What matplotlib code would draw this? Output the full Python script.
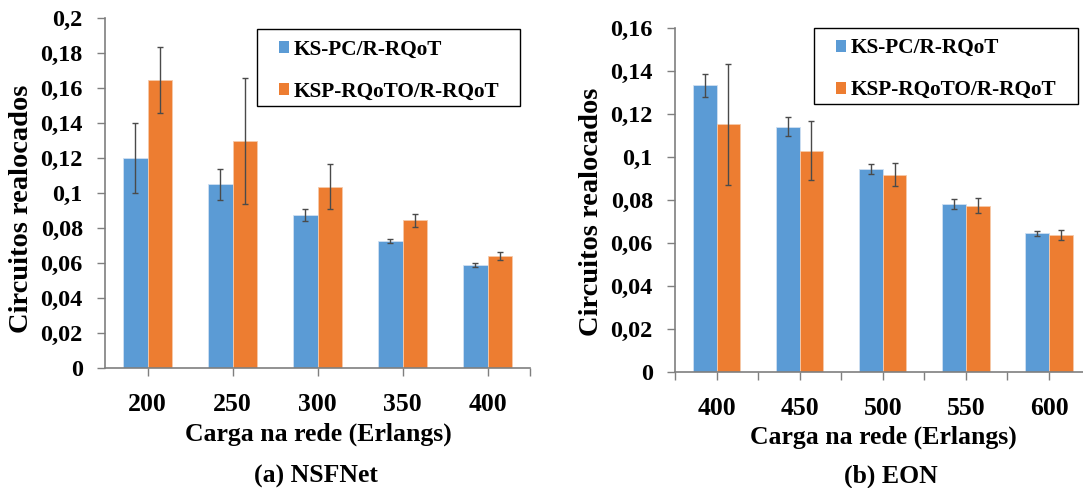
import matplotlib
matplotlib.use("Agg")
import matplotlib.pyplot as plt
from matplotlib.patches import Rectangle
import numpy as np

# ---- data ----
series_names = ["KS-PC/R-RQoT", "KSP-RQoTO/R-RQoT"]

nsf_loads = ["200", "250", "300", "350", "400"]
nsf_kspc = [0.120, 0.105, 0.0875, 0.0726, 0.0589]
nsf_kspc_err = [0.020, 0.0088, 0.0035, 0.0013, 0.0012]
nsf_ksp = [0.1645, 0.1295, 0.1036, 0.0844, 0.064]
nsf_ksp_err = [0.019, 0.036, 0.0127, 0.0038, 0.0024]

eon_loads = ["400", "450", "500", "550", "600"]
eon_kspc = [0.1332, 0.114, 0.0942, 0.078, 0.0643]
eon_kspc_err = [0.0053, 0.0045, 0.0022, 0.0021, 0.0011]
eon_ksp = [0.115, 0.1027, 0.0916, 0.0773, 0.0635]
eon_ksp_err = [0.028, 0.0137, 0.0053, 0.0033, 0.0022]

nsf_yticks = [0, 0.02, 0.04, 0.06, 0.08, 0.1, 0.12, 0.14, 0.16, 0.18, 0.2]
nsf_yticklabels = ["0", "0,02", "0,04", "0,06", "0,08", "0,1", "0,12", "0,14", "0,16", "0,18", "0,2"]
eon_yticks = [0, 0.02, 0.04, 0.06, 0.08, 0.1, 0.12, 0.14, 0.16]
eon_yticklabels = ["0", "0,02", "0,04", "0,06", "0,08", "0,1", "0,12", "0,14", "0,16"]

xlabel = "Carga na rede (Erlangs)"
ylabel = "Circuitos realocados"
captions = ["(a) NSFNet", "(b) EON"]

# ---- style ----
BLUE = "#5B9BD5"
ORANGE = "#ED7D31"
AXC = "#7f7f7f"
ERRC = "#4a4a4a"
FONT = "Liberation Serif"
plt.rcParams["font.family"] = [FONT, "DejaVu Serif"]
plt.rcParams["font.weight"] = "bold"

W, H = 1083, 488
fig = plt.figure(figsize=(W / 100, H / 100), dpi=100)


def px_axes(x0, y0, x1, y1):
    return fig.add_axes([x0 / W, 1 - y1 / H, (x1 - x0) / W, (y1 - y0) / H])


def draw(ax, loads, a, ae, b, be, yticks, ylabels, ymax, minor_ticks):
    x = np.arange(len(loads))
    bw = 0.285
    ekw = dict(ecolor=ERRC, elinewidth=1.0, capsize=2.5, capthick=1.0)
    ax.bar(x - bw / 2, a, bw, color=BLUE, edgecolor="#cfe0f2", linewidth=0.6,
           yerr=ae, error_kw=ekw, label=series_names[0], zorder=2)
    ax.bar(x + bw / 2, b, bw, color=ORANGE, edgecolor="#f6c9aa", linewidth=0.6,
           yerr=be, error_kw=ekw, label=series_names[1], zorder=2)
    ax.set_xlim(-0.5, len(loads) - 0.5)
    ax.set_ylim(0, ymax)
    ax.set_xticks(x)
    ax.set_xticklabels(loads, fontsize=18.5, fontweight="bold")
    ax.set_yticks(yticks)
    ax.set_yticklabels(ylabels, fontsize=17.5, fontweight="bold")
    ax.set_xticks(minor_ticks, minor=True)
    ax.tick_params(axis="x", which="minor", length=6, width=1, color=AXC, direction="out")
    for s in ["top", "right"]:
        ax.spines[s].set_visible(False)
    for s in ["left", "bottom"]:
        ax.spines[s].set_color(AXC)
        ax.spines[s].set_linewidth(1.2)
    ax.tick_params(axis="both", which="major", length=6, width=1, color=AXC, direction="out")
    ax.tick_params(axis="y", pad=10)
    ax.tick_params(axis="x", pad=12)
    ax.set_facecolor("none")


ax1 = px_axes(105, 18, 530, 368)
draw(ax1, nsf_loads, nsf_kspc, nsf_kspc_err, nsf_ksp, nsf_ksp_err,
     nsf_yticks, nsf_yticklabels, 0.2, [len(nsf_loads) - 0.5])
ax2 = px_axes(675, 27.7, 1090.5, 371.7)
draw(ax2, eon_loads, eon_kspc, eon_kspc_err, eon_ksp, eon_ksp_err,
     eon_yticks, eon_yticklabels, 0.16, list(np.arange(-0.5, len(eon_loads), 1.0)))

# axis labels / captions placed in figure pixels
def ftext(x, y, s, **kw):
    fig.text(x / W, 1 - y / H, s, ha="center", va="center", fontweight="bold",
             fontfamily=FONT, **kw)

ftext(22, 209, ylabel, fontsize=20.5, rotation=90)
ftext(592, 212, ylabel, fontsize=20.5, rotation=90)
ftext(318, 434, xlabel, fontsize=18.5)
ftext(883.5, 437, xlabel, fontsize=18.5)
ftext(316, 476, captions[0], fontsize=18.5)
ftext(891, 476, captions[1], fontsize=18.5)

# legends: frameless legend + drawn frame box (figure pixels)
for ax, (bx0, by0, bx1, by1) in [(ax1, (256.7, 29, 519.5, 105.7)),
                                 (ax2, (813.7, 27.7, 1077.7, 104.2))]:
    leg = ax.legend(loc="upper left",
                    bbox_to_anchor=((bx0 + 22) / W, 1 - (by0 + 10.5) / H),
                    bbox_transform=fig.transFigure, borderaxespad=0, borderpad=0,
                    prop={"family": FONT, "weight": "bold", "size": 15.3},
                    frameon=False,
                    handlelength=0.48, handleheight=0.48, handletextpad=0.22,
                    labelspacing=1.04)
    for h in leg.legend_handles:
        h.set_edgecolor("none")
    fig.patches.append(Rectangle((bx0 / W, 1 - by1 / H), (bx1 - bx0) / W, (by1 - by0) / H,
                                 transform=fig.transFigure, fill=False,
                                 edgecolor="black", linewidth=1.0, zorder=5))

fig.savefig("out.png", dpi=100)
